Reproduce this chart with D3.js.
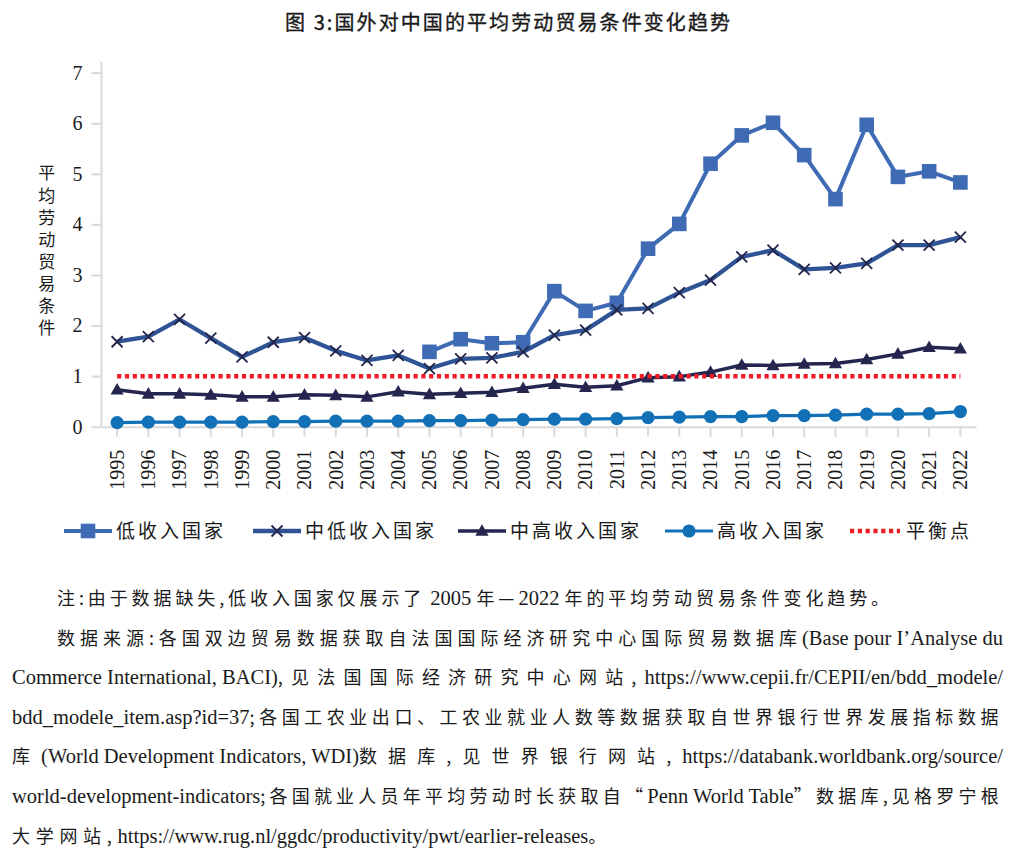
<!DOCTYPE html>
<html>
<head>
<meta charset="utf-8">
<script src="https://cdn.jsdelivr.net/npm/d3@7"></script>
<style>
  body { margin: 0; background: #fff; }
  text { fill: #1a1a1a; }
</style>
</head>
<body>
<div id="container"></div>
<script>
// data
const years = [1995, 1996, 1997, 1998, 1999, 2000, 2001, 2002, 2003, 2004, 2005, 2006, 2007, 2008,
  2009, 2010, 2011, 2012, 2013, 2014, 2015, 2016, 2017, 2018, 2019, 2020, 2021, 2022]
const lowIncome = [null, null, null, null, null, null, null, null, null, null,
  1.48, 1.73, 1.65, 1.67, 2.68, 2.29, 2.45, 3.52, 4.01, 5.20, 5.76, 6.01, 5.37, 4.50, 5.97, 4.94, 5.05, 4.83]
const lowerMiddle = [1.68, 1.78, 2.12, 1.75, 1.38, 1.67, 1.76, 1.50, 1.31, 1.41, 1.15, 1.34, 1.36, 1.48,
  1.81, 1.91, 2.31, 2.34, 2.65, 2.90, 3.36, 3.49, 3.11, 3.14, 3.23, 3.59, 3.59, 3.75]
const upperMiddle = [0.73, 0.65, 0.65, 0.63, 0.59, 0.59, 0.63, 0.62, 0.59, 0.69, 0.64, 0.66, 0.68, 0.76,
  0.84, 0.78, 0.81, 0.97, 0.99, 1.08, 1.22, 1.21, 1.24, 1.25, 1.33, 1.44, 1.57, 1.54]
const highIncome = [0.08, 0.09, 0.09, 0.09, 0.09, 0.10, 0.10, 0.11, 0.11, 0.11, 0.12, 0.12, 0.13, 0.14,
  0.15, 0.15, 0.16, 0.18, 0.19, 0.20, 0.20, 0.22, 0.22, 0.23, 0.25, 0.25, 0.26, 0.30]
const balance = [1, 1, 1, 1, 1, 1, 1, 1, 1, 1, 1, 1, 1, 1, 1, 1, 1, 1, 1, 1, 1, 1, 1, 1, 1, 1, 1, 1]
const yTicks = [0, 1, 2, 3, 4, 5, 6, 7]
const seriesNames = ["低收入国家", "中低收入国家", "中高收入国家", "高收入国家", "平衡点"]

const title = "图 3:国外对中国的平均劳动贸易条件变化趋势"
const yLabel = "平均劳动贸易条件"
const notes = [
  "注:由于数据缺失,低收入国家仅展示了 2005 年—2022 年的平均劳动贸易条件变化趋势。",
  "数据来源:各国双边贸易数据获取自法国国际经济研究中心国际贸易数据库(Base pour I’Analyse du",
  "Commerce International, BACI),见法国国际经济研究中心网站,https://www.cepii.fr/CEPII/en/bdd_modele/",
  "bdd_modele_item.asp?id=37;各国工农业出口、工农业就业人数等数据获取自世界银行世界发展指标数据",
  "库(World Development Indicators, WDI)数据库,见世界银行网站,https://databank.worldbank.org/source/",
  "world-development-indicators;各国就业人员年平均劳动时长获取自“Penn World Table”数据库,见格罗宁根",
  "大学网站,https://www.rug.nl/ggdc/productivity/pwt/earlier-releases。"
]

// layout
const width = 1015,
  height = 850,
  plot = { left: 101.5, right: 976, top: 72.7, bottom: 426.7 },
  serif = "'Liberation Serif', 'Times New Roman', Times, serif",
  cjk = "'Noto Sans CJK SC', sans-serif",
  axisColor = "#d9d9d9"

const styles = [
  { color: "#3e6bb3", width: 4, marker: "square" },
  { color: "#2f5496", width: 4.3, marker: "x" },
  { color: "#25264f", width: 3.5, marker: "triangle" },
  { color: "#1271b6", width: 3.2, marker: "circle" },
  { color: "#ee1c25", width: 4.5, marker: "none", dash: "4.2,3.6" }
]

// scales
const xScale = d3.scaleBand()
  .domain(years)
  .range([plot.left, plot.right])
  .padding(0)

const yScale = d3.scaleLinear()
  .domain([0, 7])
  .range([plot.bottom, plot.top])

const cx = d => xScale(d) + xScale.bandwidth() / 2

const svg = d3.select("#container")
  .append("svg")
  .attr("width", width)
  .attr("height", height)

// title
svg.append("text")
  .attr("x", 285)
  .attr("y", 30)
  .attr("textLength", 445)
  .attr("lengthAdjust", "spacing")
  .style("font-family", cjk)
  .style("font-size", "20px")
  .attr("stroke", "#1a1a1a")
  .attr("stroke-width", 0.35)
  .text(title)

// axes
const xAxis = d3.axisBottom(xScale).tickSize(10).tickSizeOuter(0)
const gx = svg.append("g")
  .attr("transform", `translate(0,${plot.bottom})`)
  .call(xAxis)
gx.select(".domain").attr("stroke", axisColor).attr("stroke-width", 2)
gx.selectAll(".tick line").attr("stroke", axisColor).attr("stroke-width", 2)
gx.selectAll(".tick text")
  .attr("transform", "rotate(-90)")
  .attr("text-anchor", "end")
  .attr("x", -23)
  .attr("y", 0)
  .attr("dy", "0.34em")
  .style("font-family", serif)
  .style("font-size", "20px")
  .attr("fill", "#1a1a1a")

const yAxis = d3.axisLeft(yScale).tickValues(yTicks).tickFormat(d3.format("d")).tickSize(10).tickSizeOuter(0).tickPadding(9)
const gy = svg.append("g")
  .attr("transform", `translate(${plot.left},0)`)
  .call(yAxis)
gy.select(".domain")
  .attr("d", `M0,${plot.bottom}V${plot.top - 11}`)
  .attr("stroke", axisColor).attr("stroke-width", 2)
gy.selectAll(".tick line").attr("stroke", axisColor).attr("stroke-width", 2)
gy.selectAll(".tick text")
  .style("font-family", serif)
  .style("font-size", "20px")
  .attr("fill", "#1a1a1a")

// y label written top to bottom
svg.append("text")
  .attr("x", 46.7)
  .attr("y", 164.5)
  .style("writing-mode", "vertical-rl")
  .style("text-orientation", "upright")
  .style("font-family", cjk)
  .style("font-size", "17px")
  .style("letter-spacing", "5.1px")
  .text(yLabel)

// markers
function drawMarker(g, type, color) {
  if (type === "square") {
    g.append("rect").attr("x", -7.3).attr("y", -7.3).attr("width", 14.6).attr("height", 14.6).attr("fill", color)
  } else if (type === "x") {
    g.append("path").attr("d", "M-5.5,-5.5L5.5,5.5M-5.5,5.5L5.5,-5.5")
      .attr("stroke", "#24254a").attr("stroke-width", 1.8).attr("fill", "none")
  } else if (type === "triangle") {
    g.append("path").attr("d", "M0,-6.8L6.6,4.8L-6.6,4.8Z").attr("fill", color)
  } else if (type === "circle") {
    g.append("circle").attr("r", 6.6).attr("fill", color)
  }
}

const allSeries = [lowIncome, lowerMiddle, upperMiddle, highIncome, balance]

const line = d3.line()
  .defined(d => d.v !== null)
  .x(d => cx(d.year))
  .y(d => yScale(d.v))

allSeries.forEach((values, i) => {
  const s = styles[i]
  const pts = years.map((year, j) => ({ year, v: values[j] }))
  const g = svg.append("g")
  g.append("path")
    .datum(pts)
    .attr("d", line)
    .attr("fill", "none")
    .attr("stroke", s.color)
    .attr("stroke-width", s.width)
    .attr("stroke-linejoin", "round")
    .attr("stroke-dasharray", s.dash || null)
  if (s.marker !== "none") {
    g.selectAll("g")
      .data(pts.filter(d => d.v !== null))
      .join("g")
      .attr("transform", d => `translate(${cx(d.year)},${yScale(d.v)})`)
      .each(function () { drawMarker(d3.select(this), s.marker, s.color) })
  }
})

// legend
const legendX = [64, 253, 458, 665, 850]
const legend = svg.append("g").attr("transform", "translate(0,531)")
seriesNames.forEach((name, i) => {
  const s = styles[i]
  const item = legend.append("g").attr("transform", `translate(${legendX[i]},0)`)
  item.append("line")
    .attr("x1", 0).attr("x2", i === 4 ? 50 : 48)
    .attr("stroke", s.color)
    .attr("stroke-width", s.width)
    .attr("stroke-dasharray", s.dash || null)
  const m = item.append("g").attr("transform", "translate(24,0)")
  drawMarker(m, s.marker, s.color)
  item.append("text")
    .attr("x", i === 4 ? 56 : 52)
    .attr("dy", "0.36em")
    .style("font-family", cjk)
    .style("font-size", "19px")
    .style("letter-spacing", "3px")
    .text(name)
})

// notes: Chinese runs get the extra spacing, Latin runs stay tight
const noteX = [57, 57, 12, 12, 12, 12, 12]
const noteEnd = [893, 1003, 1003, 1003, 1003, 1003, 612]
const cjkChar = /[\u2E80-\u9FFF\uFF00-\uFFEF\u3000-\u303F\u2014\u201C\u201D]/
// ascii : , ; count as Chinese punctuation only when they touch a Chinese character
const isWide = (chars, k) => {
  const ch = chars[k]
  if (cjkChar.test(ch)) return true
  if (/[:,;]/.test(ch)) return cjkChar.test(chars[k - 1] || "") || cjkChar.test(chars[k + 1] || "")
  return false
}

function splitRuns(str) {
  const chars = [...str]
  const runs = []
  chars.forEach((ch, k) => {
    const w = isWide(chars, k)
    if (runs.length && runs[runs.length - 1].wide === w) runs[runs.length - 1].text += ch
    else runs.push({ wide: w, text: ch })
  })
  return runs
}

const noteG = svg.append("g")
notes.forEach((str, i) => {
  const t = noteG.append("text")
    .attr("x", noteX[i])
    .attr("y", 605 + i * 39.6)
  const runs = splitRuns(str)
  t.selectAll("tspan")
    .data(runs)
    .join("tspan")
    .style("font-family", d => d.wide ? cjk : serif)
    .style("font-size", d => d.wide ? "18px" : "20.5px")
    .text(d => d.text)
  const w0 = t.node().getComputedTextLength()
  const n = d3.sum(runs, d => d.wide ? [...d.text].length : 0)
  const extra = Math.max(0, (noteEnd[i] - noteX[i] - w0) / n)
  t.selectAll("tspan").filter(d => d.wide).style("letter-spacing", extra + "px")
})
</script>
</body>
</html>
